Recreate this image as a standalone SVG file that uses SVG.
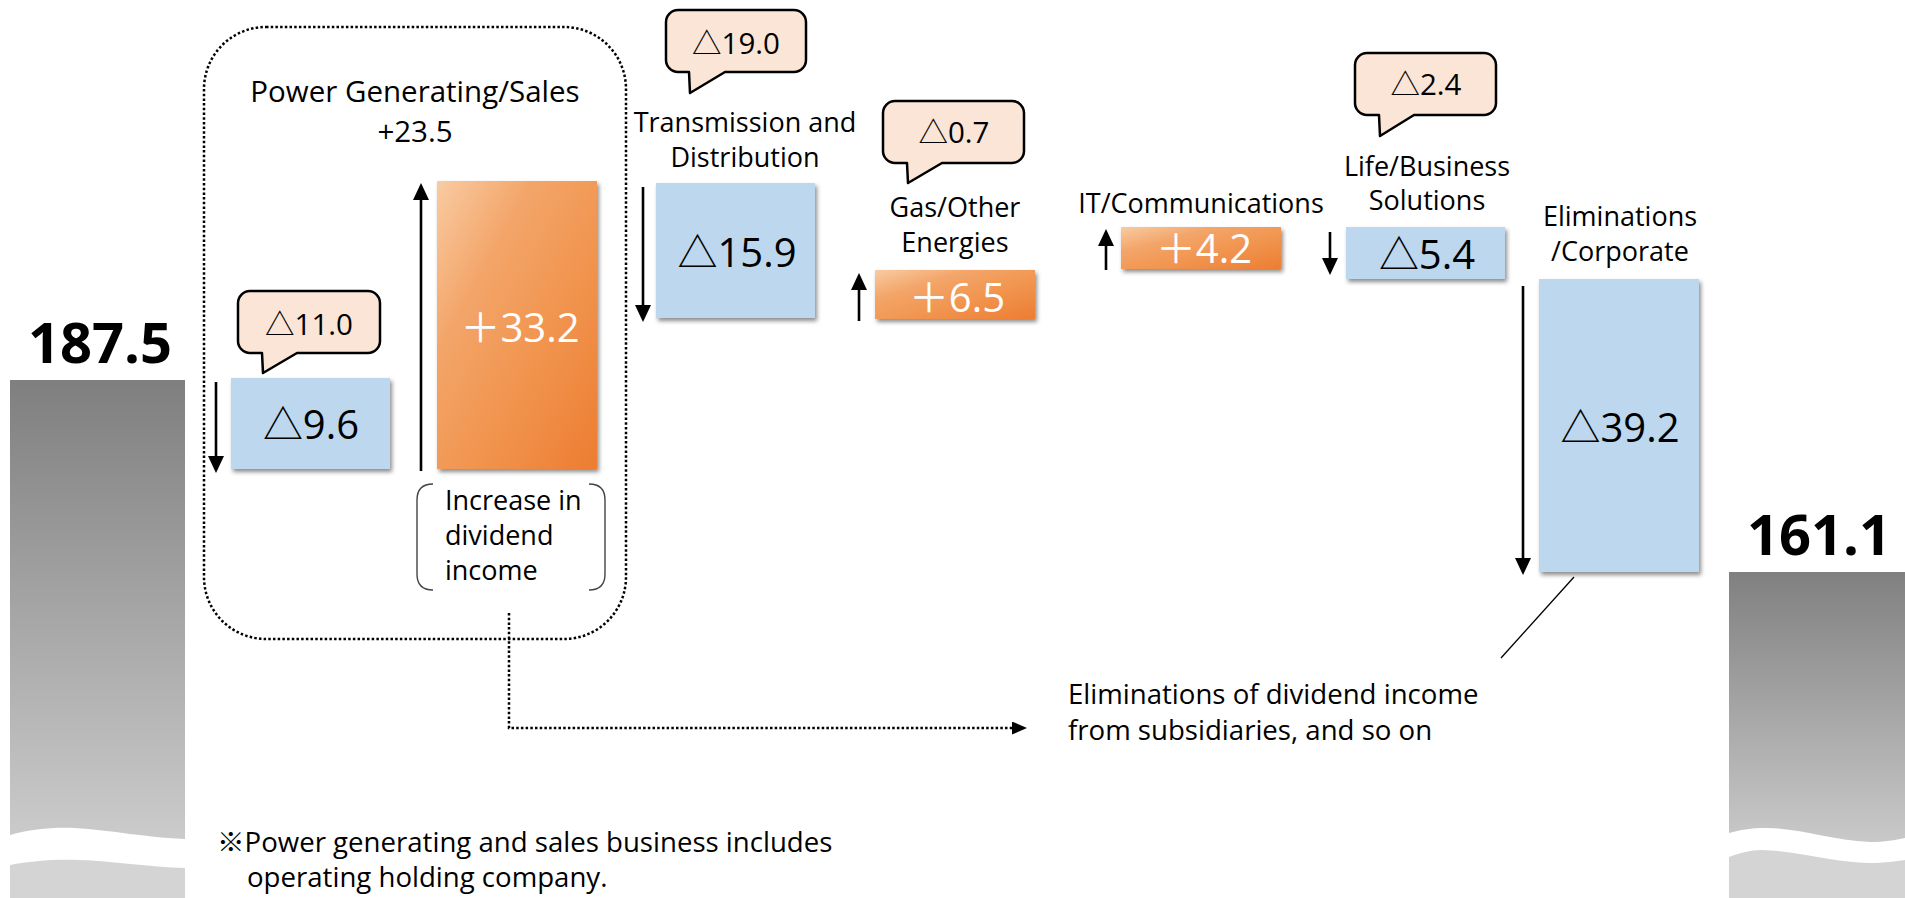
<svg xmlns="http://www.w3.org/2000/svg" width="1905" height="898" viewBox="0 0 1905 898">
  <style>
    text { font-family: 'Open Sans', 'Noto Sans CJK JP', sans-serif; fill: #000; }
    .lbl { font-size: 27px; text-anchor: middle; }
    .note { font-size: 27.6px; }
    .big { font-size: 56px; font-weight: 700; text-anchor: middle; }
    .val { font-size: 40px; text-anchor: middle; }
    .valw { font-size: 40px; text-anchor: middle; fill: #fff; }
    .bub { font-size: 29.5px; text-anchor: middle; }
    .bubble { fill: #fbe5d6; stroke: #000; stroke-width: 2.5; stroke-linejoin: round; }
    .blue { fill: #bdd7ee; filter: url(#shadow); }
    .orange { fill: url(#orangeGrad); filter: url(#shadow); }
    .arrow { stroke: #000; stroke-width: 2.6; fill: none; marker-end: url(#head); }
    .dotted { fill: none; stroke: #000; stroke-width: 2.5; stroke-dasharray: 2.5 2.2; }
    .bracket { fill: none; stroke: #444; stroke-width: 1.4; }
  </style>
  <defs>
    <linearGradient id="orangeGrad" x1="0" y1="0" x2="1" y2="1">
      <stop offset="0" stop-color="#f9cba2"/>
      <stop offset="0.3" stop-color="#f3a569"/>
      <stop offset="0.6" stop-color="#f19550"/>
      <stop offset="1" stop-color="#ed7d31"/>
    </linearGradient>
    <linearGradient id="grayLeft" gradientUnits="userSpaceOnUse" x1="0" y1="380" x2="0" y2="839">
      <stop offset="0" stop-color="#7f7f7f"/>
      <stop offset="1" stop-color="#cbcbcb"/>
    </linearGradient>
    <linearGradient id="grayRight" gradientUnits="userSpaceOnUse" x1="0" y1="572" x2="0" y2="842">
      <stop offset="0" stop-color="#808080"/>
      <stop offset="1" stop-color="#c9c9c9"/>
    </linearGradient>
    <filter id="shadow" x="-10%" y="-10%" width="125%" height="130%">
      <feDropShadow dx="2" dy="3" stdDeviation="2.2" flood-color="#000" flood-opacity="0.45"/>
    </filter>
    <marker id="head" viewBox="0 0 17 16" markerWidth="17" markerHeight="16" refX="1" refY="8" orient="auto" markerUnits="userSpaceOnUse">
      <path d="M0,0 L17,8 L0,16 Z" fill="#000"/>
    </marker>
    <marker id="headSmall" viewBox="0 0 15 13" markerWidth="15" markerHeight="13" refX="1" refY="6.5" orient="auto" markerUnits="userSpaceOnUse">
      <path d="M0,0 L15,6.5 L0,13 Z" fill="#000"/>
    </marker>
  </defs>

  <!-- opening total bar -->
  <g id="start-total">
    <path d="M10,380 H185 V839 C150,838 110,830 75,828 C55,827 30,829 10,835 Z" fill="url(#grayLeft)"/>
    <path d="M10,865 C30,861 55,859 80,860 C110,861 150,867 185,868 V898 H10 Z" fill="#d4d4d4"/>
    <text class="big" x="100" y="363">187.5</text>
  </g>

  <!-- closing total bar -->
  <g id="end-total">
    <path d="M1729,572 H1905 V838 C1895,840 1885,842 1870,842 C1830,840 1800,828 1767,828 C1750,828 1740,830 1729,833 Z" fill="url(#grayRight)"/>
    <path d="M1729,857 C1740,853 1750,850 1762,850 C1800,851 1835,863 1870,863 C1885,863 1895,861 1905,860 V898 H1729 Z" fill="#d4d4d4"/>
    <text class="big" x="1819" y="555">161.1</text>
  </g>

  <!-- power generating / sales group frame -->
  <g id="power-group">
    <rect class="dotted" x="204" y="27" width="422" height="612" rx="62" ry="62"/>
    <text class="lbl" x="415" y="102" style="font-size:29.5px">Power Generating/Sales</text>
    <text class="lbl" x="415" y="142" style="font-size:29.5px">+23.5</text>
  </g>

  <g id="power-loss">
    <rect class="blue" x="231" y="378" width="159" height="91"/>
    <text class="val" x="311" y="439">△9.6</text>
  </g>

  <g id="power-loss-note">
    <path class="bubble" d="M250,291 H368 A12,12 0 0 1 380,303 V341 A12,12 0 0 1 368,353 H297 L263,373 L262,353 H250 A12,12 0 0 1 238,341 V303 A12,12 0 0 1 250,291 Z"/>
    <text class="bub" x="309" y="335">△11.0</text>
  </g>

  <g id="dividend-gain">
    <rect class="orange" x="437" y="181" width="160" height="288"/>
    <text class="valw" x="520" y="342">＋33.2</text>
  </g>

  <g id="dividend-label">
    <path class="bracket" d="M433,484 Q417,484 417,500 V574 Q417,590 433,590"/>
    <path class="bracket" d="M589,484 Q605,484 605,500 V574 Q605,590 589,590"/>
    <text class="note" x="445" y="510" style="font-size:27px">Increase in</text>
    <text class="note" x="445" y="545" style="font-size:27px">dividend</text>
    <text class="note" x="445" y="580" style="font-size:27px">income</text>
  </g>

  <g id="transmission">
    <text class="lbl" x="745" y="132">Transmission and</text>
    <text class="lbl" x="745" y="167">Distribution</text>
    <rect class="blue" x="656" y="183" width="159" height="135"/>
    <text class="val" x="737" y="267">△15.9</text>
    <path class="bubble" d="M678,10 H794 A12,12 0 0 1 806,22 V60 A12,12 0 0 1 794,72 H725 L690,93 L689,72 H678 A12,12 0 0 1 666,60 V22 A12,12 0 0 1 678,10 Z"/>
    <text class="bub" x="736" y="54">△19.0</text>
  </g>

  <g id="gas">
    <path class="bubble" d="M895,101 H1012 A12,12 0 0 1 1024,113 V151 A12,12 0 0 1 1012,163 H942 L908,183 L907,163 H895 A12,12 0 0 1 883,151 V113 A12,12 0 0 1 895,101 Z"/>
    <text class="bub" x="954" y="143">△0.7</text>
    <text class="lbl" x="955" y="217">Gas/Other</text>
    <text class="lbl" x="955" y="252">Energies</text>
    <rect class="orange" x="875" y="270" width="160" height="49"/>
    <text class="valw" x="957" y="312">＋6.5</text>
  </g>

  <g id="it">
    <text class="lbl" x="1201" y="213">IT/Communications</text>
    <rect class="orange" x="1121" y="227" width="160" height="42"/>
    <text class="valw" x="1204" y="263">＋4.2</text>
  </g>

  <g id="life">
    <path class="bubble" d="M1367,53 H1484 A12,12 0 0 1 1496,65 V103 A12,12 0 0 1 1484,115 H1414 L1380,136 L1379,115 H1367 A12,12 0 0 1 1355,103 V65 A12,12 0 0 1 1367,53 Z"/>
    <text class="bub" x="1426" y="95">△2.4</text>
    <text class="lbl" x="1427" y="176">Life/Business</text>
    <text class="lbl" x="1427" y="210">Solutions</text>
    <rect class="blue" x="1346" y="227" width="159" height="52"/>
    <text class="val" x="1427" y="269">△5.4</text>
  </g>

  <g id="eliminations">
    <text class="lbl" x="1620" y="226">Eliminations</text>
    <text class="lbl" x="1620" y="261">/Corporate</text>
    <rect class="blue" x="1539" y="279" width="160" height="293"/>
    <text class="val" x="1620" y="442">△39.2</text>
  </g>

  <g id="eliminations-note">
    <text class="note" x="1068" y="704">Eliminations of dividend income</text>
    <text class="note" x="1068" y="740">from subsidiaries, and so on</text>
  </g>

  <g id="footnote">
    <text class="note" x="217" y="852">※Power generating and sales business includes</text>
    <text class="note" x="247" y="887">operating holding company.</text>
  </g>

  <!-- connectors: direction arrows, dividend flow, leader line -->
  <g id="connectors">
    <line class="arrow" x1="216" y1="382" x2="216" y2="457"/>
    <line class="arrow" x1="421" y1="471" x2="421" y2="199"/>
    <line class="arrow" x1="643" y1="187" x2="643" y2="306"/>
    <line class="arrow" x1="859" y1="321" x2="859" y2="289"/>
    <line class="arrow" x1="1106" y1="270" x2="1106" y2="245"/>
    <line class="arrow" x1="1330" y1="232" x2="1330" y2="259"/>
    <line class="arrow" x1="1523" y1="286" x2="1523" y2="559"/>
    <path class="dotted" d="M509,613 V728 H1013" marker-end="url(#headSmall)"/>
    <line x1="1574" y1="577" x2="1501" y2="658" stroke="#000" stroke-width="1.3"/>
  </g>
</svg>
